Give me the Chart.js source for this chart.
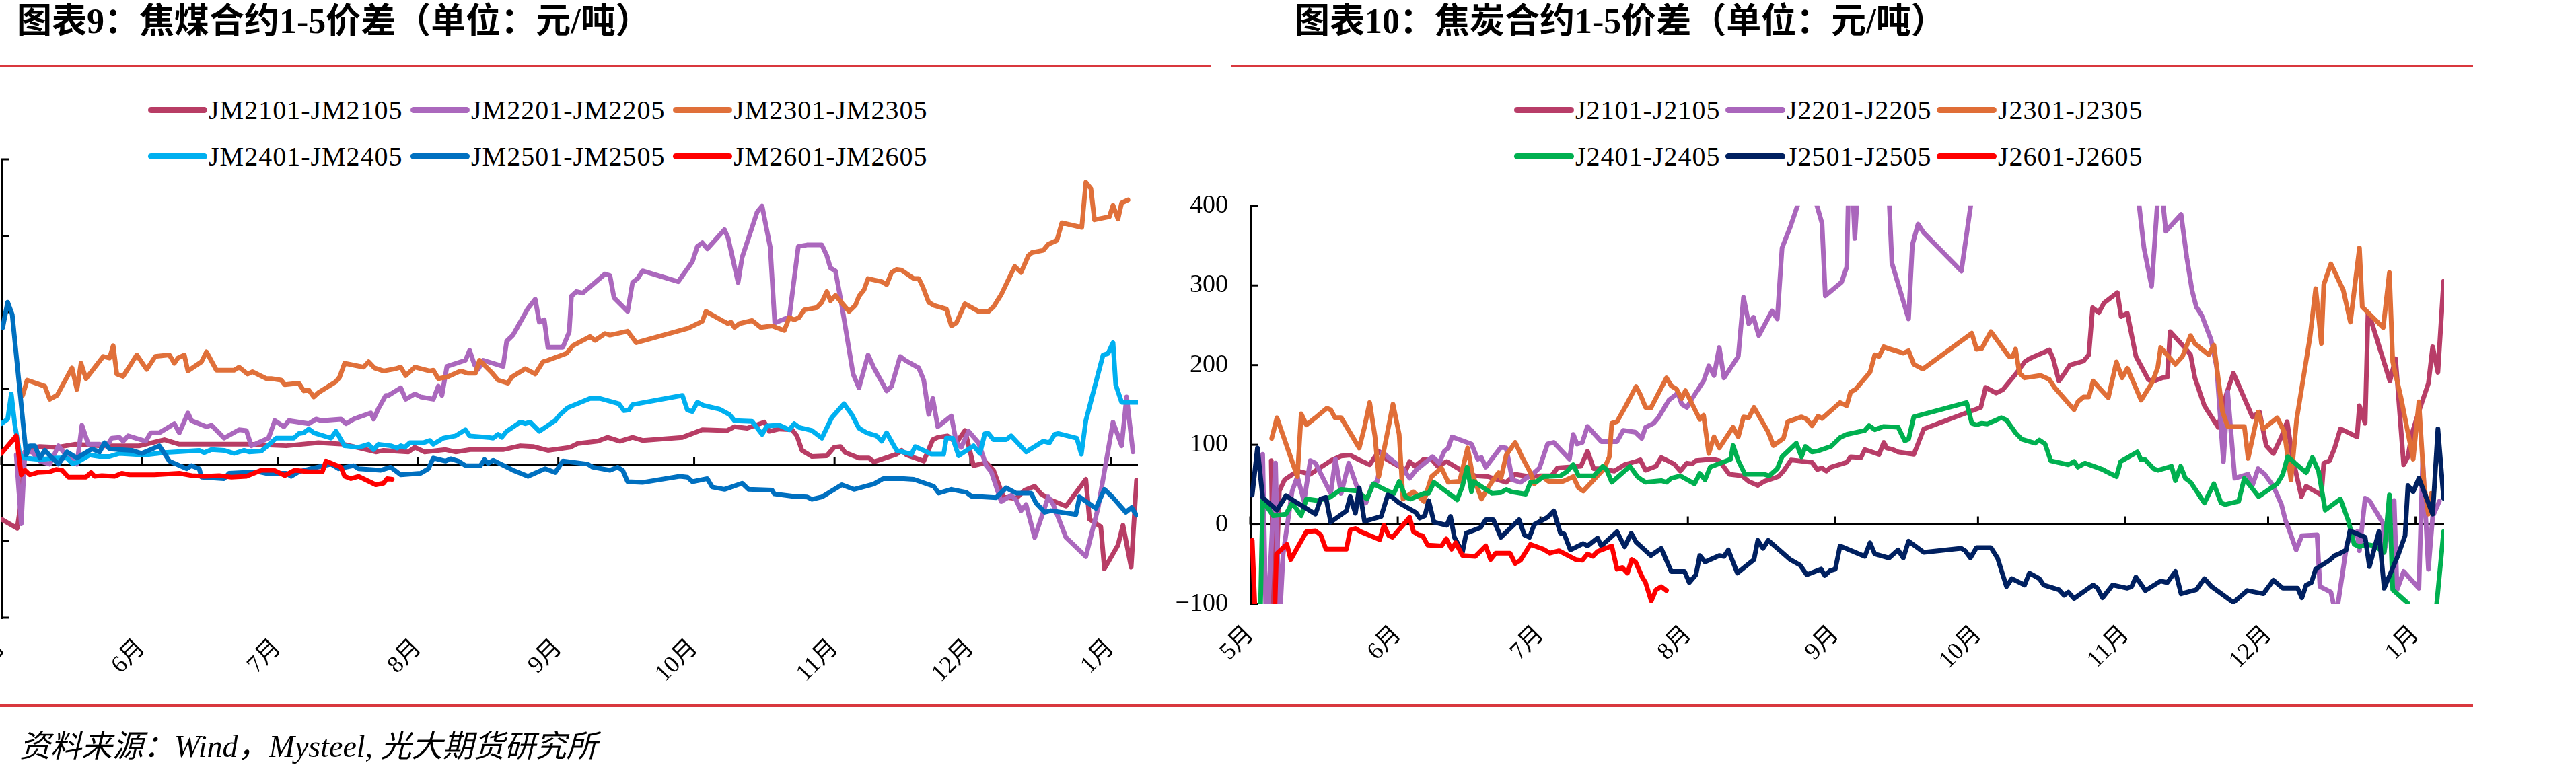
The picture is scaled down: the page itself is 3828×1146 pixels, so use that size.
<!DOCTYPE html>
<html><head><meta charset="utf-8">
<script src="https://cdn.jsdelivr.net/npm/chart.js@4.4.1/dist/chart.umd.min.js"></script>
<style>
html,body{margin:0;padding:0;background:#fff;}
body{width:3828px;height:1146px;position:relative;overflow:hidden;}
.title{position:absolute;top:6px;font-family:'Liberation Serif','Noto Sans CJK SC',serif;font-weight:700;font-size:52px;line-height:52px;white-space:nowrap;color:#000;}
.rule{position:absolute;height:4px;background:#D9383E;}
.legend{position:absolute;display:grid;font-family:'Liberation Serif',serif;font-size:40px;color:#000;letter-spacing:1px;}
.item{display:flex;align-items:center;height:69px;white-space:nowrap;}
.swatch{height:9px;border-radius:5px;margin-right:2px;flex:none;}
.wrap{position:absolute;}
.source{position:absolute;left:29px;top:1087px;font-family:'Liberation Serif','Noto Sans CJK SC',serif;font-style:italic;font-size:46px;line-height:46px;white-space:nowrap;color:#000;}
</style></head><body>
<div class="title" style="left:25px;">图表9：焦煤合约1-5价差（单位：元/吨）</div>
<div class="title" style="left:1924px;">图表10：焦炭合约1-5价差（单位：元/吨）</div>
<div class="rule" style="left:0;top:96px;width:1800px;"></div>
<div class="rule" style="left:1830px;top:96px;width:1845px;"></div>
<div class="rule" style="left:0;top:1047px;width:3675px;"></div>
<div id="legLeft" class="legend" style="left:220px;top:129px;grid-template-columns:repeat(3,390px);"></div>
<div id="legRight" class="legend" style="left:2250px;top:129px;grid-template-columns:repeat(3,314px);"></div>
<div class="wrap" style="left:-150px;top:200px;width:1860px;height:900px;"><canvas id="cLeft" width="1860" height="900"></canvas></div>
<div class="wrap" style="left:1700px;top:250px;width:2000px;height:850px;"><canvas id="cRight" width="2000" height="850"></canvas></div>
<div class="source">资料来源：Wind，Mysteel, 光大期货研究所</div>
<script>
// ---------- axis categories (days since 1 May) ----------
const monthStarts = [0,31,61,92,123,153,184,214,245];
const monthLabels = ['5月','6月','7月','8月','9月','10月','11月','12月','1月'];
const leftYTicks = {min:-200, max:400, step:100};
const rightYTicks = {min:-100, max:400, step:100};

// ---------- 焦煤 series: [day, value] ----------
const coalLabels = ['JM2101-JM2105','JM2201-JM2205','JM2301-JM2305','JM2401-JM2405','JM2501-JM2505','JM2601-JM2605'];
const coalColors = ['#B83D65','#AB68BD','#E0703A','#00B0F0','#0070C0','#FF0000'];
const jm2101 = [[0,-71],[3.5,-83],[4.2,-55],[5.2,17],[6.3,22],[8.5,24],[12.3,23],[16.2,27],[21.7,25],[30.5,25],[36,33],[39.3,27],[54.7,27],[62.9,25],[70,29],[75.6,27],[82.7,17],[84.4,19],[89.9,17],[91.3,23],[93.5,17],[98.1,20],[100.3,17],[103.6,20],[110.8,20],[114.6,25],[117.4,24],[120.7,19],[125.6,23],[127.3,28],[131.7,31],[133.9,36],[136.6,31],[139.4,36],[141.6,32],[150.4,36],[154.8,46],[160.3,45],[161.9,50],[164.7,48],[168.5,56],[169.6,44],[171.8,47],[174.6,46],[175.7,38],[176.8,19],[179,11],[182.3,12],[183.9,23],[185.3,24],[186.4,16],[189.4,9],[191.6,9],[192.7,4],[197.7,14],[198.8,19],[199.9,13],[203.7,5],[205.7,33],[206.8,36],[208.9,38],[210.9,29],[212.8,45],[214.7,-1],[217.5,3],[219.1,-7],[221.3,-42],[224.1,-44],[226,-33],[228.2,-28],[229.6,-38],[231.8,-46],[235.1,-54],[239.5,-19],[240.3,-71],[242.8,-81],[243.6,-136],[246.6,-105],[247.7,-79],[249.5,-134],[250.7,-20]];
const jm2201 = [[3.3,13],[4.4,-77],[5.2,17],[6.8,17],[8.5,5],[10.7,1],[12.6,25],[14.5,11],[16.7,1],[17.8,52],[19.2,27],[21.7,27],[23.3,25],[24.4,35],[26.1,36],[26.9,31],[28,38],[31.9,31],[33,42],[34.9,42],[38.2,54],[39.3,42],[41.2,68],[42,58],[45.3,50],[46.4,52],[49.2,35],[52.5,46],[54.1,45],[55.2,25],[59,35],[60.4,58],[62.4,50],[63.5,58],[67.9,54],[69.5,60],[70.6,58],[75,60],[76.1,54],[77.8,60],[81.6,68],[82.2,60],[83.3,74],[84.9,91],[85.5,91],[88.2,101],[89.3,86],[91.3,93],[92.6,89],[95.4,86],[96.5,103],[97.3,91],[98.4,129],[102.5,137],[103.4,150],[104.5,131],[105.3,125],[106.4,137],[110.8,129],[111.6,162],[113,170],[116.3,205],[117.9,217],[118.8,187],[119.9,190],[120.7,154],[124,154],[125.4,174],[125.9,221],[127,227],[128.4,225],[133.3,250],[134.4,248],[135.3,219],[138.3,201],[139.4,239],[140.5,244],[141.6,254],[149.5,240],[152.6,266],[153.7,286],[154.8,291],[155.9,283],[159.7,308],[160.5,297],[162.7,239],[163.6,272],[166.9,331],[168,339],[169.8,285],[170.8,186],[172.9,191],[174,193],[176,286],[177.9,288],[181.2,288],[182.3,274],[183.1,258],[184.2,254],[185.6,209],[188.1,119],[189.4,101],[191.4,144],[192.7,127],[195.5,97],[196.6,103],[198.5,142],[199.6,137],[202.6,127],[203.7,111],[204.8,66],[205.7,87],[206.8,50],[209.8,64],[210.9,29],[212,23],[213.6,44],[215.8,29],[217.5,-1],[218.6,-9],[220.8,-48],[223,-40],[224.1,-46],[225.2,-60],[226.3,-52],[228.2,-95],[231.2,-42],[232.3,-52],[235.1,-95],[239.5,-120],[242.2,-56],[245.5,56],[247.4,25],[248.5,89],[249.9,17]];
const jm2301 = [[4.7,91],[5.7,111],[9.6,103],[10.7,86],[12.3,91],[15.6,127],[16.7,99],[17.6,133],[18.7,113],[22.5,142],[23.9,140],[24.7,156],[25.5,119],[26.9,116],[29.9,144],[32.1,125],[34,142],[37.1,144],[38.2,133],[39,140],[40.4,144],[41.2,123],[44.2,135],[45.3,148],[47.5,124],[51.4,124],[52.5,128],[54.4,119],[55.5,122],[58.5,113],[59.6,113],[61.8,111],[62.6,105],[65.7,107],[66.8,97],[67.9,98],[69,89],[70.1,95],[73.9,109],[74.7,115],[75.8,133],[80,128],[81.1,135],[82.4,127],[84.4,123],[87.1,126],[88.2,128],[89.3,117],[91.3,128],[94.6,123],[95.4,124],[96.5,113],[98.4,115],[101.4,123],[103.1,120],[104.7,120],[105.6,137],[108.3,121],[109.7,111],[111.9,107],[112.7,115],[115.7,126],[117.9,119],[119.6,135],[120.7,137],[124.8,146],[126.2,156],[130,168],[131.1,163],[133.3,172],[134.4,170],[138.3,175],[140.2,160],[149.3,175],[151.7,179],[154.8,188],[155.6,201],[159.2,189],[160.5,185],[161.1,187],[161.9,180],[163,185],[165.8,189],[167.7,180],[170.2,182],[172.9,176],[174,193],[175.1,190],[176.2,193],[177.3,203],[180.1,206],[181.2,213],[182.3,227],[183.1,215],[184.2,222],[187.2,201],[188.6,209],[189.4,221],[190.5,229],[191.4,244],[194.4,240],[195.5,236],[196.6,252],[197.7,256],[198.8,255],[201.5,244],[202.6,244],[203.5,233],[204.8,213],[205.9,209],[208.7,204],[209.8,182],[210.9,186],[212.8,211],[215.8,201],[218,201],[219.1,207],[220.8,223],[223.8,260],[225.2,252],[226.8,274],[227.6,278],[230.1,281],[231.2,289],[233.1,294],[234.2,317],[238.6,311],[239.5,370],[240.6,362],[241.4,321],[244.7,325],[245.5,340],[246.6,322],[247.4,343],[248.8,347]];
const jm2401 = [[0,54],[1.4,60],[2.2,93],[3,52],[4.1,13],[5.2,9],[8.5,7],[12.3,9],[14.5,9],[15.6,2],[16.7,3],[19.5,13],[21.7,11],[23.9,11],[26.1,15],[31.6,13],[36,16],[43.7,19],[44.8,16],[46.4,20],[49.2,19],[51.4,15],[53.6,19],[54.7,17],[57.4,18],[60.7,35],[64.6,35],[65.7,41],[66.8,42],[67.9,47],[69,42],[72.8,35],[73.9,44],[75.8,25],[78.9,23],[81.1,27],[82.2,20],[83.3,27],[86,25],[87.4,22],[88.2,25],[89.1,23],[90.2,29],[93.2,29],[94.6,32],[95.4,27],[97.6,35],[100.3,38],[102.5,46],[103.4,38],[107.5,36],[108.6,35],[109.7,40],[110.5,36],[111.6,44],[114.6,56],[115.7,54],[116.8,56],[118.8,44],[122.3,58],[123.4,66],[125.1,75],[130,87],[132.2,87],[136.4,80],[137.5,71],[138.6,72],[139.4,79],[150.4,91],[151.5,72],[152.6,70],[153.7,82],[155,78],[158.6,73],[160.8,66],[161.9,58],[165.8,57],[168,40],[169.1,51],[171.8,52],[174,46],[175.1,54],[176.2,49],[179,45],[181.2,35],[183.4,62],[186.1,80],[187.8,66],[189.4,48],[191.1,42],[193.3,38],[194.4,31],[195.5,42],[197.7,19],[201,14],[201.8,24],[203.7,19],[205.4,14],[208.1,14],[208.7,35],[210.1,35],[211.4,12],[214.7,25],[216.1,15],[217.2,41],[218,41],[219.1,33],[221.9,33],[223,38],[226.3,17],[230.1,31],[231.5,29],[232.6,40],[233.4,41],[237.5,35],[238.5,14],[239.5,58],[243.3,144],[244.4,146],[245.5,160],[246.1,105],[247.4,82],[251,82]];
const jm2501 = [[0.3,180],[1.4,213],[2.4,197],[5.5,13],[6.3,25],[7.4,25],[8.5,9],[9.6,19],[12.6,1],[14.5,17],[16.7,9],[20,21],[21.7,17],[22.8,29],[23.9,21],[28.8,19],[31,15],[34.9,25],[37.1,5],[40.9,-5],[42,-1],[43.7,-5],[44.2,-16],[49.2,-18],[50.3,-11],[56.9,-9],[58.5,-11],[62.9,-11],[64,-15],[65.7,-9],[68.4,-5],[72.8,1],[74.5,-5],[77.8,-1],[78.9,-5],[83.8,-7],[86,-3],[88.2,-13],[92.6,-11],[94.3,-5],[95.4,9],[98.1,5],[99.2,8],[100.9,5],[102.5,-1],[105.8,-1],[106.7,7],[107.5,2],[108.6,6],[113,-7],[116.3,-15],[120.1,-5],[122.3,-10],[124,5],[129.5,1],[130.6,-3],[134.4,-7],[136.1,-3],[137.2,-7],[138.3,-22],[141.6,-23],[149.8,-15],[151.5,-16],[152.6,-22],[155.9,-18],[157,-29],[159.7,-32],[163.6,-24],[165,-32],[170.2,-33],[170.7,-38],[174.6,-41],[177.9,-42],[179,-45],[181.2,-42],[185.6,-26],[188.3,-32],[192.7,-25],[194.7,-18],[199.3,-18],[201.5,-19],[205.9,-28],[207,-37],[209.8,-32],[213.1,-36],[214.2,-41],[219.7,-43],[221.9,-30],[224.1,-37],[227.4,-37],[228.5,-50],[230.4,-62],[231.8,-60],[237.3,-65],[238.1,-42],[241.7,-57],[243.6,-32],[245.5,-43],[248.3,-62],[249.6,-56],[250.7,-66]];
const jm2601 = [[0,15],[3.3,38],[4.4,-13],[5.2,-7],[6.3,-13],[8,-10],[10.7,-9],[12.1,-6],[13.4,-7],[14.8,-16],[18.7,-16],[19.8,-10],[20.6,-15],[22.2,-14],[25,-15],[26.6,-11],[28.3,-13],[33.8,-13],[39.3,-11],[42,-14],[44.8,-15],[48.1,-14],[50.8,-16],[54.1,-15],[57.4,-7],[60.2,-7],[62.6,-14],[64.8,-7],[67.9,-9],[70.9,-9],[71.7,5],[75,-3],[75.8,-15],[77.2,-18],[78.9,-15],[82.7,-26],[84.4,-24],[85.2,-18],[86.3,-19]];

// ---------- 焦炭 series: [day, value] ----------
const cokeLabels = ['J2101-J2105','J2201-J2205','J2301-J2305','J2401-J2405','J2501-J2505','J2601-J2605'];
const cokeColors = ['#B83D68','#AA66BC','#E06E37','#00B050','#002060','#FF0000'];
const j2101 = [[4.4,80],[5.0,-140],[6.1,42],[7.2,56],[9.9,67],[12.6,63],[16.9,80],[19.1,86],[21,87],[22.9,81],[25.1,75],[27,92],[28.6,82],[32.7,68],[33.5,79],[34.6,73],[36.5,82],[38.1,82],[39.4,73],[41.3,79],[44.6,67],[47.3,61],[50,60],[53.8,53],[55.7,63],[58.7,60],[61.1,61],[63.3,61],[64.6,71],[69.5,73],[70.9,92],[72.2,70],[73.8,70],[76.5,67],[78.7,75],[81,79],[82,81],[83.1,68],[85.3,73],[86.4,84],[89.1,76],[90.4,67],[91.8,77],[92.9,76],[93.7,80],[97.2,82],[98.6,80],[100.7,63],[103.4,61],[104.8,54],[106.7,49],[108,54],[111,60],[112.1,67],[113.7,81],[118.1,78],[119.2,69],[120.2,71],[121.1,67],[122.1,72],[125.4,78],[126.2,85],[128.4,84],[129.2,94],[132.2,88],[133.2,103],[133.8,96],[135.1,94],[136.2,91],[139.5,88],[140.5,103],[141.6,120],[153.6,147],[154.6,172],[156.8,165],[158.2,169],[161.1,190],[162.8,204],[163.8,208],[164.9,211],[168,219],[168.8,208],[170,180],[171.1,189],[172.3,200],[175.2,205],[176.3,213],[177.1,272],[178.4,266],[179.5,278],[182.3,291],[183.1,261],[184.4,265],[186.2,211],[188.8,182],[189.6,179],[191.7,184],[192.8,185],[193.4,242],[196,225],[197.7,213],[198.6,184],[200.6,149],[203.5,122],[205.2,163],[206.7,190],[210.7,135],[212.2,141],[213.6,99],[215.1,89],[216.8,110],[218,129],[219.1,85],[221,35],[222,48],[225.2,37],[225.7,77],[226.9,80],[228,96],[229.2,120],[232.7,110],[233.2,149],[234.4,127],[235,265],[235.8,253],[239.6,180],[240.8,208],[242.5,75],[243.4,85],[244.2,113],[245.7,142],[247.7,177],[248.6,223],[249.7,191],[250.9,305]];
const j2201 = [[2.6,88],[3.4,-150],[5.3,77],[6.1,-130],[6.9,-37],[8.8,42],[9.9,60],[11.3,29],[12.6,80],[13.7,77],[16.9,39],[17.9,82],[19.1,39],[20.7,77],[22.6,44],[24.3,27],[25.6,49],[26.7,54],[27.8,91],[28.9,85],[32.1,70],[33.5,58],[34.8,68],[38.3,85],[39.7,77],[40.8,92],[41.6,96],[42.4,110],[46.5,101],[47.8,82],[48.6,84],[49.5,72],[52.7,97],[53.8,96],[55.1,56],[56.8,53],[59.7,65],[60.8,71],[62.5,101],[63.8,103],[67.1,82],[67.9,113],[68.7,101],[69.8,103],[70.9,123],[73.8,104],[77.1,104],[78.4,118],[80.9,116],[82.3,108],[83.1,122],[84.8,127],[85.8,134],[88,156],[89.9,165],[90.7,151],[91.8,147],[93.1,160],[95.3,180],[96.4,199],[97.5,187],[98.6,222],[99.6,184],[102.6,211],[103.7,285],[104.8,252],[105.8,260],[106.9,237],[109.7,268],[110.8,258],[111.8,347],[113.5,373],[115.1,401],[117,470],[118.9,405],[120.2,378],[120.9,287],[124.3,304],[125.4,323],[125.8,430],[126.5,440],[127.1,359],[128,450],[131,480],[134.3,410],[134.9,328],[138.4,258],[139.2,351],[140.4,377],[141.6,366],[149.5,318],[151.7,410],[155,480],[162,520],[170,500],[178,470],[184,450],[186.7,410],[187.9,347],[189.5,299],[190.8,410],[191.6,420],[192.5,368],[195.7,389],[196.9,335],[198,294],[198.9,273],[200,263],[202,232],[203.2,197],[204.6,79],[205.5,166],[207,58],[209.8,63],[210.7,49],[211.9,70],[213.3,63],[215.1,48],[216.8,25],[217.6,6],[218.5,-8],[219.9,-32],[221.1,-14],[224.3,-13],[224.9,-78],[227.2,-85],[228.3,-115],[230.6,-23],[232.7,-9],[233.2,-33],[234.4,33],[235.3,30],[238.2,1],[238.4,-35],[240.5,30],[241.1,-82],[242.5,-59],[245.7,-80],[246.5,82],[247.7,-56],[248.6,10],[250,29]];
const j2301 = [[4.5,108],[5.6,134],[9.9,60],[10.7,139],[11.8,125],[13.7,134],[16.1,146],[16.9,144],[17.8,134],[19.1,134],[22.9,96],[24,122],[25.1,153],[26.2,111],[27,60],[30,151],[31.3,113],[32.1,32],[34.3,41],[36.5,29],[38.1,60],[40.2,71],[41.6,53],[44,54],[45.7,96],[46.7,63],[48.6,32],[50.5,51],[52.2,65],[52.7,58],[53.8,87],[55.7,103],[57.1,85],[58.9,65],[59.7,51],[61.4,60],[62.7,54],[65.7,54],[67.9,60],[69,46],[70,42],[72.2,56],[74.4,70],[75.5,85],[76,127],[77.1,129],[78.7,146],[81.1,173],[82,163],[83.1,147],[84.2,146],[87.5,184],[88.5,174],[89.6,170],[90.7,158],[91.5,168],[94.5,132],[95.3,137],[96.4,89],[97.5,110],[98.6,96],[101.5,122],[102.6,110],[103.7,135],[104.8,134],[105.9,147],[108.9,116],[110,99],[112.1,108],[113,129],[115.9,135],[117,132],[118.1,124],[119.4,136],[120.2,133],[124,153],[125.4,149],[126.2,166],[127.3,170],[130.3,191],[131.3,213],[132.2,211],[133.2,223],[134.1,221],[137.3,215],[138.4,218],[139.5,201],[141.4,195],[151.7,240],[152.7,220],[153.8,221],[155.7,242],[159.5,211],[160.3,211],[160.9,220],[161.7,190],[162.8,184],[166.2,187],[168,182],[169.1,172],[173.2,144],[174,154],[175.2,160],[176.3,160],[177.2,180],[180.4,159],[182.1,204],[183.3,184],[184.4,196],[187.3,156],[189.6,178],[190.8,197],[191.4,222],[194.5,201],[196,211],[197.7,237],[198.6,227],[201.5,213],[202.6,225],[204.4,142],[205.5,123],[209,123],[209.8,83],[211.9,141],[213,120],[215.9,134],[217.4,116],[218.8,56],[220,132],[222.8,235],[224,296],[225.2,227],[225.7,301],[227.2,327],[229.8,294],[231.3,254],[233.2,347],[233.8,273],[238.2,247],[239.5,316],[240.2,204],[241.9,160],[244.5,82],[245.7,154],[246.8,49],[247.7,13],[248.3,39]];
const j2401 = [[2.05,-130],[2.6,30],[4.8,11],[7.5,13],[8.8,27],[10.7,11],[11.8,32],[14.2,30],[16.7,34],[19.1,44],[22.4,42],[24.5,32],[25.9,51],[28.9,42],[30.2,39],[31.3,54],[32.7,34],[33.7,32],[36.5,39],[37.5,39],[38.6,53],[43.5,31],[44.6,48],[45.6,72],[46.5,41],[47,54],[50.8,39],[52.7,40],[53.8,44],[54.9,41],[57.9,38],[58.9,53],[60.3,54],[61.6,60],[65.2,61],[66.5,66],[67.9,75],[69,61],[72.2,61],[74.1,73],[74.9,69],[76,53],[79.8,73],[81.4,60],[82.3,56],[83.1,53],[86.4,55],[87.5,53],[88.5,58],[90.4,61],[93.4,51],[94.5,64],[95.6,56],[96.7,72],[101,82],[101.5,99],[102.6,80],[104,63],[108,63],[109.1,61],[110.8,70],[111.8,85],[114.8,102],[115.9,85],[116.7,98],[118.1,91],[119.2,92],[122.1,98],[124,109],[125.4,113],[129.2,118],[130.1,124],[131.3,119],[133.2,123],[136.2,122],[137.6,105],[138.4,107],[139.5,135],[150.6,153],[151.7,127],[152.7,125],[153.8,127],[154.9,126],[157.9,134],[159,131],[160.9,115],[162.2,107],[165,102],[165.9,106],[167.1,101],[168.3,80],[172,75],[173.2,79],[174,72],[175.5,77],[179.2,69],[180.1,66],[182.1,60],[183,79],[186.5,91],[187.3,81],[188.2,81],[189.9,70],[190.8,68],[193.7,73],[194.5,55],[195.6,73],[196.6,58],[197.7,53],[200.6,27],[202.6,51],[204.1,27],[205,25],[207.8,29],[209,58],[212,35],[215.9,51],[217.1,63],[218.1,85],[222,65],[223.3,84],[224.6,67],[226,18],[229.2,32],[230.9,4],[232.1,-25],[233.2,-28],[234.7,-25],[236.4,-27],[238.4,-35],[239.5,37],[240.2,-82],[243.4,-99],[244,-140],[248.8,-140],[250.9,-9]];
const j2501 = [[0.4,37],[1.5,96],[2.6,34],[5.6,18],[7.5,36],[13.7,13],[14.8,32],[15.9,34],[16.9,3],[20.2,17],[21,35],[22.1,14],[22.9,46],[24,4],[27.5,10],[28.9,37],[29.9,34],[31.3,27],[34.8,15],[35.6,8],[36.7,11],[37.5,30],[38.6,3],[41.3,-1],[42.1,10],[42.9,-16],[44.6,-35],[45.4,-11],[48.4,-4],[49.5,6],[51.1,6],[52.7,-16],[56.5,6],[57.6,-13],[58.7,-16],[59.7,0],[62.5,9],[63.8,17],[65.2,-11],[66,-12],[67.3,-32],[70,-24],[70.9,-27],[73,-17],[73.8,-27],[77.1,-9],[78.7,-28],[80.1,-11],[81.1,-22],[84.2,-39],[86.4,-30],[88.5,-59],[91.3,-59],[92.3,-73],[93.7,-63],[94.5,-39],[95.6,-47],[98.6,-39],[99.6,-40],[100.5,-32],[102.4,-61],[105.9,-44],[106.7,-20],[107.8,-30],[108.9,-20],[113.5,-44],[115.6,-51],[117,-63],[120,-56],[120.8,-64],[121.9,-58],[123,-56],[124,-27],[129.2,-40],[130.3,-23],[131.3,-37],[134.3,-42],[136.2,-32],[137.3,-42],[138.4,-21],[141.6,-35],[149.5,-30],[150.3,-33],[151.4,-42],[152.7,-29],[155.7,-29],[157.1,-42],[159,-78],[160.1,-68],[162.8,-76],[163.8,-61],[165.9,-68],[166.8,-76],[170,-82],[171.1,-89],[172,-85],[173.2,-93],[177.2,-76],[178.1,-80],[179.2,-92],[181.3,-76],[184.4,-80],[185.3,-78],[186.2,-66],[188.2,-83],[191.4,-71],[192.8,-73],[194.5,-59],[195.7,-87],[198.9,-82],[200.6,-68],[202.1,-78],[206.7,-98],[209.6,-83],[213,-87],[215.1,-70],[217.1,-80],[220.2,-80],[221.1,-92],[222,-76],[223.1,-73],[224,-56],[226.9,-45],[228,-39],[228.9,-37],[230.4,-32],[231.2,-8],[234.4,-16],[235.3,-53],[237.3,-9],[238.4,-80],[241.3,-39],[242.8,-14],[243.4,49],[244.5,41],[245.7,58],[248.6,13],[249.7,120],[250.9,33]];
const j2601 = [[0.4,-20],[1.2,-140],[5.0,-140],[5.5,-37],[7.7,-25],[8.5,-44],[11.8,-9],[13.7,-8],[14.8,-13],[15.9,-31],[20.2,-31],[21,-7],[22.1,-5],[23.2,-9],[27.2,-19],[28.1,-1],[29.1,-14],[29.9,-16],[33.5,9],[34.3,-9],[35.4,-13],[36.2,-14],[37.3,-26],[40.2,-27],[41.2,-18],[42.3,-31],[43.2,-23],[44.6,-39],[47.3,-40],[49.5,-27],[50.5,-44],[51.6,-36],[54.6,-36],[55.7,-49],[56.8,-45],[58.9,-25],[61.6,-31],[63,-36],[64.9,-33],[68.4,-44],[69.8,-45],[70.9,-37],[72,-40],[73,-34],[76,-27],[77.1,-56],[78.2,-54],[79.3,-61],[80.2,-44],[81,-47],[82.4,-66],[83.1,-73],[84.3,-96],[85.3,-82],[86.4,-78],[87.5,-83]];

const coalSeries = [jm2101, jm2201, jm2301, jm2401, jm2501, jm2601];
const cokeSeries = [j2101, j2201, j2301, j2401, j2501, j2601];

// ---------- helpers ----------
function buildLegend(id, labels, colors, swatchW) {
  const el = document.getElementById(id);
  labels.forEach((lab, i) => {
    const item = document.createElement('div'); item.className = 'item';
    const sw = document.createElement('span'); sw.className = 'swatch';
    sw.style.width = swatchW + 'px'; sw.style.background = colors[i];
    const tx = document.createElement('span'); tx.textContent = lab;
    item.appendChild(sw); item.appendChild(tx); el.appendChild(item);
  });
}
buildLegend('legLeft', coalLabels, coalColors, 88);
buildLegend('legRight', cokeLabels, cokeColors, 89);

const insideTicks = {
  id: 'insideTicks',
  beforeDatasetsDraw(chart) {
    const {ctx, chartArea, scales: {x, y}} = chart;
    ctx.save(); ctx.strokeStyle = '#000'; ctx.lineWidth = 3;
    y.ticks.forEach(t => {
      const py = y.getPixelForValue(t.value);
      ctx.beginPath(); ctx.moveTo(chartArea.left, py); ctx.lineTo(chartArea.left + 12, py); ctx.stroke();
    });
    const y0 = y.getPixelForValue(0);
    x.ticks.forEach(t => {
      const px = x.getPixelForValue(t.value);
      ctx.beginPath(); ctx.moveTo(px, y0); ctx.lineTo(px, y0 - 12); ctx.stroke();
    });
    ctx.restore();
  }
};

const fmt = v => (v < 0 ? '\u2212' + Math.abs(v) : String(v));

function makeChart(canvasId, series, labels, colors, yt, cfg) {
  const datasets = series.map((s, i) => ({
    label: labels[i],
    data: s.map(p => ({x: p[0], y: p[1]})),
    borderColor: colors[i], backgroundColor: colors[i],
    borderWidth: 7, pointRadius: 0, tension: 0,
    borderJoinStyle: 'round', borderCapStyle: 'round',
    order: series.length - i
  }));
  return new Chart(document.getElementById(canvasId), {
    type: 'line',
    data: {datasets},
    plugins: [insideTicks],
    options: {
      responsive: false, animation: false, devicePixelRatio: 1,
      layout: {padding: cfg.padding},
      plugins: {legend: {display: false}, tooltip: {enabled: false}, title: {display: false}},
      scales: {
        x: {
          type: 'linear', min: 0, max: 251,
          afterBuildTicks: s => { s.ticks = monthStarts.map(v => ({value: v})); },
          afterFit: s => { s.height = cfg.xHeight; },
          grid: {display: false, drawTicks: false},
          border: {display: false},
          ticks: {
            autoSkip: false, minRotation: 45, maxRotation: 45, padding: 24,
            color: '#000', font: {family: "'Liberation Serif','Noto Sans CJK SC',serif", size: 36},
            callback: (v, i) => monthLabels[i]
          }
        },
        y: {
          min: yt.min, max: yt.max,
          afterFit: s => { s.width = cfg.yWidth; },
          grid: {
            drawTicks: false, lineWidth: 3,
            color: c => (c.tick && c.tick.value === 0 ? '#000' : 'rgba(0,0,0,0)')
          },
          border: {display: true, color: '#000', width: 3},
          ticks: {
            display: cfg.showY, stepSize: yt.step, padding: 33, color: '#000',
            font: {family: "'Liberation Serif',serif", size: 38},
            callback: fmt
          }
        }
      }
    }
  });
}

makeChart('cLeft', coalSeries, coalLabels, coalColors, leftYTicks,
  {padding: {top: 37, right: 19, left: 0, bottom: 0}, xHeight: 182, yWidth: 152, showY: false});
makeChart('cRight', cokeSeries, cokeLabels, cokeColors, rightYTicks,
  {padding: {top: 55, right: 68, left: 0, bottom: 0}, xHeight: 202, yWidth: 158, showY: true});
</script>
</body></html>
